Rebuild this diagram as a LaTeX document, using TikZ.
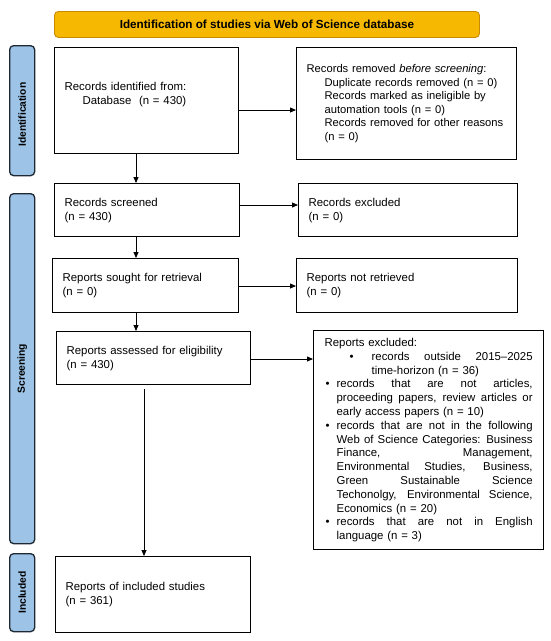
\documentclass[tikz,border=0pt]{standalone}
\usepackage{fontspec}
\setmainfont{Liberation Sans}
\usetikzlibrary{arrows.meta}
\definecolor{gold}{HTML}{F6B800}
\definecolor{goldedge}{HTML}{C98A00}
\definecolor{phaseblue}{HTML}{9DC3E6}
\definecolor{phaseedge}{HTML}{1F2933}
\tikzset{
  box/.style={draw=black, line width=1.3pt, anchor=north west, align=left,
    inner xsep=10pt, inner ysep=2pt, font=\fontsize{11.4}{13.8}\selectfont},
  phase/.style={draw=phaseedge, fill=phaseblue, line width=1.3pt, rounded corners=4pt,
    anchor=north west, minimum width=25pt, inner sep=0pt},
  phaselabel/.style={rotate=90, font=\fontsize{10.3}{12}\selectfont\bfseries},
  arr/.style={line width=0.8pt, -{Triangle[length=6pt,width=5pt]}},
}
\newcommand{\jline}[2]{\hbox to #1{\spaceskip=\fontdimen2\font plus 1fil\relax #2}\\}
\begin{document}
\begin{tikzpicture}[x=1pt,y=-1pt]
\useasboundingbox (0,0) rectangle (550,641);
% title
\node[draw=goldedge, fill=gold, line width=0.9pt, rounded corners=4pt, anchor=north west,
  minimum width=425pt, minimum height=26pt, inner sep=0pt,
  font=\fontsize{11.7}{13}\selectfont\bfseries] (title) at (54,11)
  {Identification of studies via Web of Science database};
% phase bars
\node[phase, minimum height=130pt] (pid) at (9,45) {};
\node[phaselabel] (lid) at ([yshift=-4pt]pid.center) {Identification};
\node[phase, minimum height=350pt] (pscr) at (9,193) {};
\node[phaselabel] (lscr) at (pscr.center) {Screening};
\node[phase, minimum height=78pt] (pinc) at (9,553) {};
\node[phaselabel] (linc) at (pinc.center) {Included};
% left column
\node[box, text width=164pt, minimum height=106pt] (ident) at (54,47)
  {Records identified from:\\\hspace*{18pt}Database\ \ (n = 430)\\\mbox{}};
\node[box, text width=165pt, minimum height=53pt] (screen) at (54,183)
  {Records screened\\(n = 430)};
\node[box, text width=166pt, minimum height=54pt] (sought) at (52,258)
  {Reports sought for retrieval\\(n = 0)};
\node[box, text width=174pt, minimum height=53pt] (assess) at (56,331)
  {Reports assessed for eligibility\\(n = 430)};
\node[box, text width=175pt, minimum height=76pt] (incl) at (55,556)
  {Reports of included studies\\(n = 361)};
% right column
\node[box, text width=200pt, minimum height=112pt, font=\fontsize{11.2}{13.5}\selectfont] (removed) at (296,47)
  {Records removed \emph{before screening}:\\
   \hspace*{18pt}Duplicate records removed (n = 0)\\
   \hspace*{18pt}Records marked as ineligible by\\
   \hspace*{18pt}automation tools (n = 0)\\
   \hspace*{18pt}Records removed for other reasons\\
   \hspace*{18pt}(n = 0)};
\node[box, text width=199pt, minimum height=53pt] (rexcl) at (298,183)
  {Records excluded\\(n = 0)};
\node[box, text width=201pt, minimum height=54pt] (notret) at (296,258)
  {Reports not retrieved\\(n = 0)};
\node[box, text width=208pt, inner xsep=11pt, minimum height=219pt] (repexcl) at (313,330)
  {Reports excluded:\\
   \hspace*{25pt}\makebox[22pt][l]{\textbullet}\jline{161pt}{records outside 2015–2025}
   \hspace*{47pt}time-horizon (n = 36)\\
   \hspace*{1pt}\makebox[11pt][l]{\textbullet}\jline{196pt}{records that are not articles,}
   \hspace*{12pt}\jline{196pt}{proceeding papers, review articles or}
   \hspace*{12pt}early access papers (n = 10)\\
   \hspace*{1pt}\makebox[11pt][l]{\textbullet}\jline{196pt}{records that are not in the following}
   \hspace*{12pt}\jline{196pt}{Web of Science Categories: Business}
   \hspace*{12pt}\jline{196pt}{Finance, Management,}
   \hspace*{12pt}\jline{196pt}{Environmental Studies, Business,}
   \hspace*{12pt}\jline{196pt}{Green Sustainable Science}
   \hspace*{12pt}\jline{196pt}{Techonolgy, Environmental Science,}
   \hspace*{12pt}Economics (n = 20)\\
   \hspace*{1pt}\makebox[11pt][l]{\textbullet}\jline{196pt}{records that are not in English}
   \hspace*{12pt}language (n = 3)};
% connector positions
\coordinate (vx1) at (136,0);
\coordinate (vx2) at (144,0);
\coordinate (hy1) at (0,110);
\coordinate (hy2) at (0,205);
\coordinate (hy3) at (0,286);
\coordinate (hy4) at (0,359);
% vertical arrows
\draw[arr] (ident.south -| vx1) -- (screen.north -| vx1);
\draw[arr] (screen.south -| vx1) -- (sought.north -| vx1);
\draw[arr] (sought.south -| vx1) -- (assess.north -| vx1);
\draw[arr] ([yshift=-4pt]assess.south -| vx2) -- (incl.north -| vx2);
% horizontal arrows
\draw[arr] (ident.east |- hy1) -- (removed.west |- hy1);
\draw[arr] (screen.east |- hy2) -- (rexcl.west |- hy2);
\draw[arr] (sought.east |- hy3) -- (notret.west |- hy3);
\draw[arr] (assess.east |- hy4) -- (repexcl.west |- hy4);
\end{tikzpicture}
\end{document}
